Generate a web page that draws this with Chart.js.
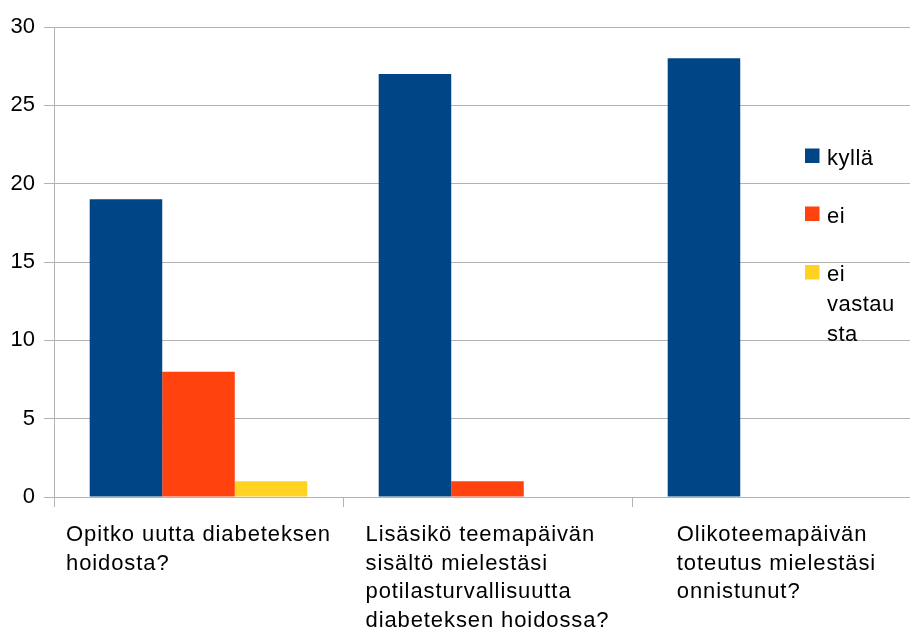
<!DOCTYPE html>
<html>
<head>
<meta charset="utf-8">
<script src="https://cdn.jsdelivr.net/npm/chart.js@4.4.0/dist/chart.umd.min.js"></script>
<style>
    html, body { margin: 0; padding: 0; overflow: hidden; background: #fff; }
    #wrap { width: 940px; height: 628px; }
</style>
</head>
<body>
<div id="wrap"><canvas id="chart_1"></canvas></div>
<script>
// questions on the x axis, already broken into lines
const categories = [
    ['Opitko uutta diabeteksen', 'hoidosta?'],
    ['Lisäsikö teemapäivän', 'sisältö mielestäsi', 'potilasturvallisuutta', 'diabeteksen hoidossa?'],
    ['Olikoteemapäivän', 'toteutus mielestäsi', 'onnistunut?']
];
const seriesNames = ['kyllä', 'ei', 'ei vastausta'];
const legendLines = [['kyllä'], ['ei'], ['ei', 'vastau', 'sta']];
const kylla = [19, 27, 28];
const ei = [8, 1, 0];
const eiVastausta = [1, 0, 0];
const yTicks = [0, 5, 10, 15, 20, 25, 30];

const FONT = '22px "Liberation Sans", Arial, sans-serif';
const GRID = '#b3b3b3';

// x labels: left-aligned lines inside a block centred on the category
const xLabels = {
    id: 'xLabels',
    afterDraw(chart) {
        const ctx = chart.ctx;
        const x = chart.scales.x;
        ctx.save();
        ctx.font = FONT;
        ctx.letterSpacing = '0.9px';
        ctx.fillStyle = '#000';
        ctx.textAlign = 'left';
        ctx.textBaseline = 'alphabetic';
        categories.forEach((lines, i) => {
            const w = Math.max(...lines.map(l => ctx.measureText(l).width));
            const left = x.getPixelForTick(i) - w / 2;
            lines.forEach((l, j) => ctx.fillText(l, left, 541 + j * 28.6));
        });
        ctx.restore();
    }
};

// legend drawn on the right, over the plot area
const sideLegend = {
    id: 'sideLegend',
    afterDraw(chart) {
        const ctx = chart.ctx;
        const tops = [148.5, 206.5, 265];
        ctx.save();
        ctx.font = FONT;
        ctx.letterSpacing = '0.5px';
        ctx.textAlign = 'left';
        ctx.textBaseline = 'alphabetic';
        chart.data.datasets.forEach((ds, i) => {
            ctx.fillStyle = ds.backgroundColor;
            ctx.fillRect(805, tops[i], 14.5, 14.5);
            ctx.fillStyle = '#000';
            legendLines[i].forEach((l, j) => ctx.fillText(l, 827, tops[i] + 16 + j * 29.8));
        });
        ctx.restore();
    }
};

new Chart(document.getElementById('chart_1'), {
    type: 'bar',
    data: {
        labels: categories,
        datasets: [
            { label: seriesNames[0], data: kylla, backgroundColor: '#004586' },
            { label: seriesNames[1], data: ei, backgroundColor: '#ff420e' },
            { label: seriesNames[2], data: eiVastausta, backgroundColor: '#ffd320' }
        ]
    },
    options: {
        responsive: true,
        maintainAspectRatio: false,
        animation: false,
        layout: { padding: { top: 27, right: 19, left: 0, bottom: 0 } },
        datasets: { bar: { barPercentage: 1, categoryPercentage: 0.753, borderWidth: 0 } },
        scales: {
            x: {
                grid: { offset: true, drawOnChartArea: false, drawTicks: true, tickLength: 10, color: GRID },
                border: { color: GRID },
                ticks: { display: false },
                afterFit(scale) { scale.height = 131; }
            },
            y: {
                min: 0,
                max: 30,
                afterBuildTicks(scale) { scale.ticks = yTicks.map(v => ({ value: v })); },
                grid: { color: GRID, tickLength: 10 },
                border: { color: GRID },
                ticks: { font: { family: '"Liberation Sans", Arial, sans-serif', size: 22 }, color: '#000', padding: 9 },
                afterFit(scale) { scale.width = 54; }
            }
        },
        plugins: {
            legend: { display: false },
            tooltip: { enabled: false }
        }
    },
    plugins: [xLabels, sideLegend]
});
</script>
</body>
</html>
